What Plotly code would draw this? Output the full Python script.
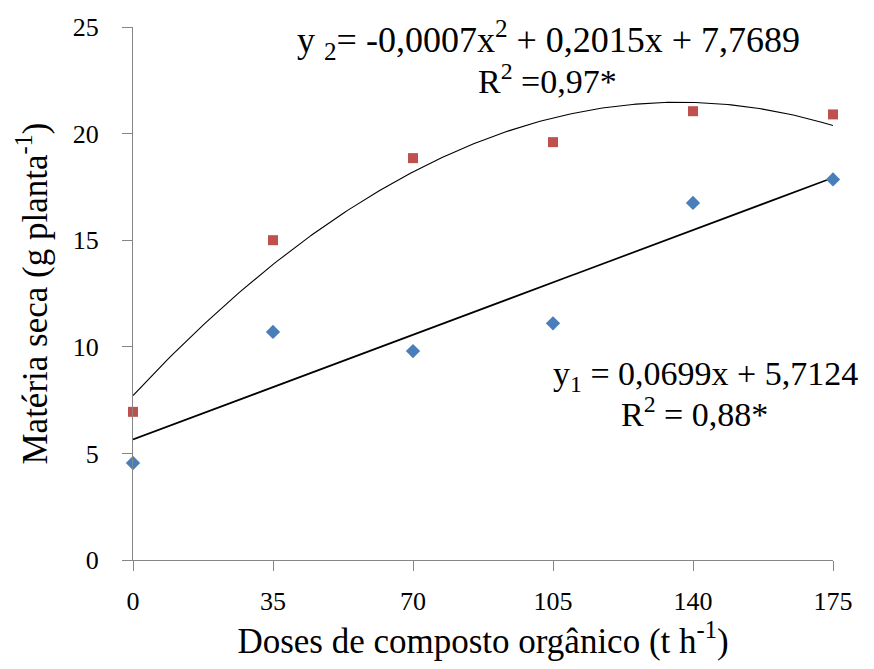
import numpy as np
import plotly.graph_objects as go

doses = [0, 35, 70, 105, 140, 175]
y1_vals = [4.55, 10.7, 9.8, 11.1, 16.75, 17.85]   # blue diamonds
y2_vals = [6.95, 15.0, 18.85, 19.6, 21.05, 20.9]  # red squares
x_ticks = [0, 35, 70, 105, 140, 175]
y_ticks = [0, 5, 10, 15, 20, 25]

FONT = "'Times New Roman', 'Liberation Serif', Tinos, 'DejaVu Serif', serif"

# trend lines fitted to the data
xs = np.linspace(0, 175, 200)
p1 = np.polyfit(doses, y1_vals, 1)
p2 = np.polyfit(doses, y2_vals, 2)

fig = go.Figure()
fig.add_trace(go.Scatter(x=xs, y=np.polyval(p2, xs), mode="lines",
                         line=dict(color="black", width=1.1), hoverinfo="skip"))
fig.add_trace(go.Scatter(x=xs, y=np.polyval(p1, xs), mode="lines",
                         line=dict(color="black", width=1.7), hoverinfo="skip"))
fig.add_trace(go.Scatter(x=doses, y=y1_vals, mode="markers",
                         marker=dict(symbol="diamond", size=11, color="#4A7EBB"),
                         cliponaxis=False))
fig.add_trace(go.Scatter(x=doses, y=y2_vals, mode="markers",
                         marker=dict(symbol="square", size=10, color="#C0504D"),
                         cliponaxis=False))

axis_common = dict(showgrid=False, zeroline=False, showline=True, linecolor="#868686",
                   linewidth=1, ticks="outside", ticklen=10, tickcolor="#868686",
                   tickfont=dict(family=FONT, size=26, color="black"))

fig.update_xaxes(range=[0, 175], tickvals=x_ticks, ticklabelstandoff=8,
                 title=dict(text="Doses de composto orgânico (t h<sup>-1</sup>)",
                            font=dict(family=FONT, size=35, color="black"), standoff=8),
                 **axis_common)
fig.update_yaxes(range=[0, 25], tickvals=y_ticks, ticklabelstandoff=18,
                 title=dict(text="Matéria seca (g planta<sup>-1</sup>)",
                            font=dict(family=FONT, size=35, color="black"), standoff=14),
                 **axis_common)

ann_font = dict(family=FONT, size=34, color="black")
fig.add_annotation(x=(548 - 133) / 700 * 175, y=(560 - 40) / 533 * 25, xref="x", yref="y",
                   showarrow=False, font=dict(family=FONT, size=36, color="black"),
                   text="y <sub>2</sub>= -0,0007x<sup>2</sup> + 0,2015x + 7,7689")
fig.add_annotation(x=(547 - 133) / 700 * 175, y=(560 - 79) / 533 * 25, xref="x", yref="y",
                   showarrow=False, font=ann_font,
                   text="R<sup>2</sup> =0,97*")
fig.add_annotation(x=(705 - 133) / 700 * 175, y=(560 - 376) / 533 * 25, xref="x", yref="y",
                   showarrow=False, font=ann_font,
                   text="y<sub>1</sub> = 0,0699x + 5,7124")
fig.add_annotation(x=(694 - 133) / 700 * 175, y=(560 - 412) / 533 * 25, xref="x", yref="y",
                   showarrow=False, font=ann_font,
                   text="R<sup>2</sup> = 0,88*")

fig.update_layout(width=874, height=669, showlegend=False,
                  plot_bgcolor="white", paper_bgcolor="white",
                  margin=dict(l=133, r=41, t=27, b=109),
                  font=dict(family=FONT, color="black"))

fig.write_html("out.html")
